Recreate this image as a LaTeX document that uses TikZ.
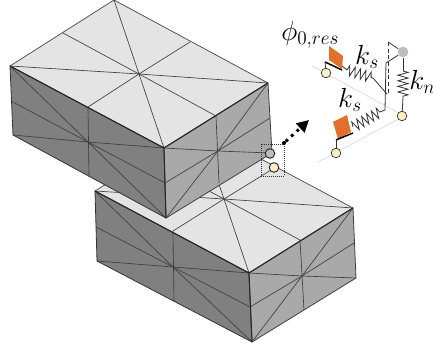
\documentclass[tikz,border=0pt]{standalone}
\usepackage{xcolor}
\usepackage{amsmath}
\usepackage{tikz}
\usetikzlibrary{arrows.meta, decorations.pathmorphing}

\definecolor{topgray}{HTML}{E4E4E4}
\definecolor{leftgray}{HTML}{808080}
\definecolor{rightgray}{HTML}{A9A9A9}
\definecolor{blockorange}{HTML}{E0702A}
\definecolor{nodecream}{HTML}{FBEFC8}
\definecolor{nodegray}{HTML}{BDBDBD}

\begin{document}
\begin{tikzpicture}[
  x=0.75pt, y=-0.75pt,
  topface/.style={fill=topgray, draw=black!75, line width=0.5pt, line join=round},
  leftface/.style={fill=leftgray, draw=black!80, line width=0.6pt, line join=round},
  rightface/.style={fill=rightgray, draw=black!75, line width=0.6pt, line join=round},
  meshline/.style={draw=black!75, line width=0.5pt},
  edgeline/.style={draw=black!85, line width=0.75pt},
  contact/.style={circle, draw=black!85, line width=0.7pt, minimum size=7.2pt, inner sep=0pt},
  wire/.style={draw=black!80, line width=0.6pt},
  spring/.style={wire, decorate, decoration={zigzag, segment length=4.2pt, amplitude=3.8pt}},
  plate/.style={draw=black, line width=1.1pt},
  refline/.style={draw=black!15, line width=0.5pt},
  lbl/.style={inner sep=0pt, font=\fontsize{20}{24}\selectfont},
]
  \useasboundingbox (0,0) rectangle (433,349);

  % ── Lower block: top face ──
  \fill[topgray] (95,191) -- (199,126) -- (353,208) -- (249,273) -- cycle;
  \foreach \tgt in {(173,231), (300,240), (249,273), (353,208), (95,191), (199,126), (276,167), (147,158)}
    \draw[meshline] (224,199) -- \tgt;
  \draw[topface, fill=none] (95,191) -- (199,126) -- (353,208) -- (249,273) -- cycle;

  % ── Lower block: left face ──
  \draw[leftface] (95,191) -- (97,261) -- (252,342) -- (249,273) -- cycle;
  \draw[meshline] (173,231) -- (174,302);
  \foreach \tgt in {(95,191), (96,227), (97,261), (249,273), (250,307), (252,342)}
    \draw[meshline] (173,267) -- \tgt;

  % ── Lower block: right face ──
  \draw[rightface] (249,273) -- (353,208) -- (356,278) -- (252,342) -- cycle;
  \draw[meshline] (300,240) -- (304,310);
  \foreach \tgt in {(353,208), (354,243), (356,278), (249,273), (250,307), (252,342)}
    \draw[meshline] (302,276) -- \tgt;
  \draw[edgeline] (249,273) -- (252,342);
  \draw[edgeline] (95,191) -- (249,273) -- (353,208);

  % ── Upper block: top face ──
  \draw[topface] (10,66) -- (114,0) -- (268,83) -- (164,148) -- cycle;
  \foreach \tgt in {(63,33), (190,42), (216,116), (88,107), (10,66), (114,0), (268,83), (164,148)}
    \draw[meshline] (139,74) -- \tgt;

  % ── Upper block: left face ──
  \draw[leftface] (10,66) -- (13,135) -- (166,218) -- (164,148) -- cycle;
  \draw[meshline] (88,107) -- (89,177);
  \foreach \tgt in {(10,66), (11,101), (13,135), (164,148), (165,183), (166,218)}
    \draw[meshline] (88,142) -- \tgt;

  % ── Upper block: right face ──
  \draw[rightface] (164,148) -- (268,83) -- (272,153) -- (166,218) -- cycle;
  \draw[meshline] (216,116) -- (219,183);
  \foreach \tgt in {(268,83), (270,118), (270,153), (164,148), (165,183), (166,218)}
    \draw[meshline] (218,151) -- \tgt;
  \draw[edgeline] (164,148) -- (166,218);
  \draw[edgeline] (10,66) -- (164,148) -- (268,83);

  % ── Contact pair on the block corner ──
  \draw[densely dotted, black!80, line width=0.5pt] (261,144) rectangle (284,176);
  \node[contact, fill=nodegray] (corner) at (270,153.5) {};
  \node[contact, fill=nodecream] (edgept) at (274,167.5) {};

  % ── Dotted pointer to the detail ──
  \node[circle, fill=black, inner sep=0pt, minimum size=3pt] (dotstart) at (284,143) {};
  \coordinate (dottip) at (309,120);
  \draw[black, line width=2.2pt, dash pattern=on 2.2pt off 3.4pt, -{Triangle[length=9pt, width=9pt]}]
    (dotstart) -- (dottip);

  % ── Detail: reference lines ──
  \draw[refline] (312,66) -- (397,112);
  \draw[refline] (318,162) -- (397,120);

  % ── Detail: interface nodes ──
  \node[contact, fill=nodegray, draw=none, minimum size=8pt] (gtop) at (403,52) {};
  \node[contact, fill=nodecream, line width=0.5pt] (ybot) at (402,116) {};
  \node[contact, fill=nodecream, line width=0.5pt] (yone) at (326,73) {};
  \node[contact, fill=nodecream, line width=0.5pt] (ytwo) at (336,153) {};

  % ── Detail: frictional sliders ──
  \fill[blockorange] (329,46) -- (343,56) -- (342,69) -- (329,60) -- cycle;
  \fill[blockorange] (333,122) -- (347,115) -- (351,132) -- (338,139) -- cycle;
  \draw[plate] (325,62) -- (342,70);
  \draw[plate] (336,140) -- (353,133);
  \draw[wire] (yone) -- (325,62);
  \draw[wire] (ytwo) -- (336,140);

  % ── Detail: springs ──
  \coordinate (sonea) at (347,70);
  \coordinate (soneb) at (373,78);
  \coordinate (stwoa) at (353,127);
  \coordinate (stwob) at (380,112);
  \coordinate (barbot) at (387,94);
  \coordinate (barmid) at (385,110);
  \draw[wire] (342,66) -- (sonea);
  \draw[spring] (sonea) -- (soneb);
  \draw[wire] (soneb) -- (barbot);
  \draw[spring] (stwoa) -- (stwob);
  \draw[wire] (stwob) -- (barmid) -- (386,63) -- (gtop);
  \draw[wire] (gtop) -- (403,71);
  \draw[spring] (403,71) -- (403,97);
  \draw[wire] (403,97) -- (ybot);

  % ── Detail: rigid frame ──
  \draw[wire, densely dashed] (388,42) -- (388,94);
  \draw[wire] (388,42) -- (gtop);

  % ── Labels ──
  \node[lbl, anchor=west] (philbl) at (281,35) {$\phi_{0,res}$};
  \node[lbl] (ksone) at (367,57) {$k_s$};
  \node[lbl] (kstwo) at (350,100) {$k_s$};
  \node[lbl, anchor=west] (knlbl) at (409,82) {$k_n$};
\end{tikzpicture}
\end{document}
